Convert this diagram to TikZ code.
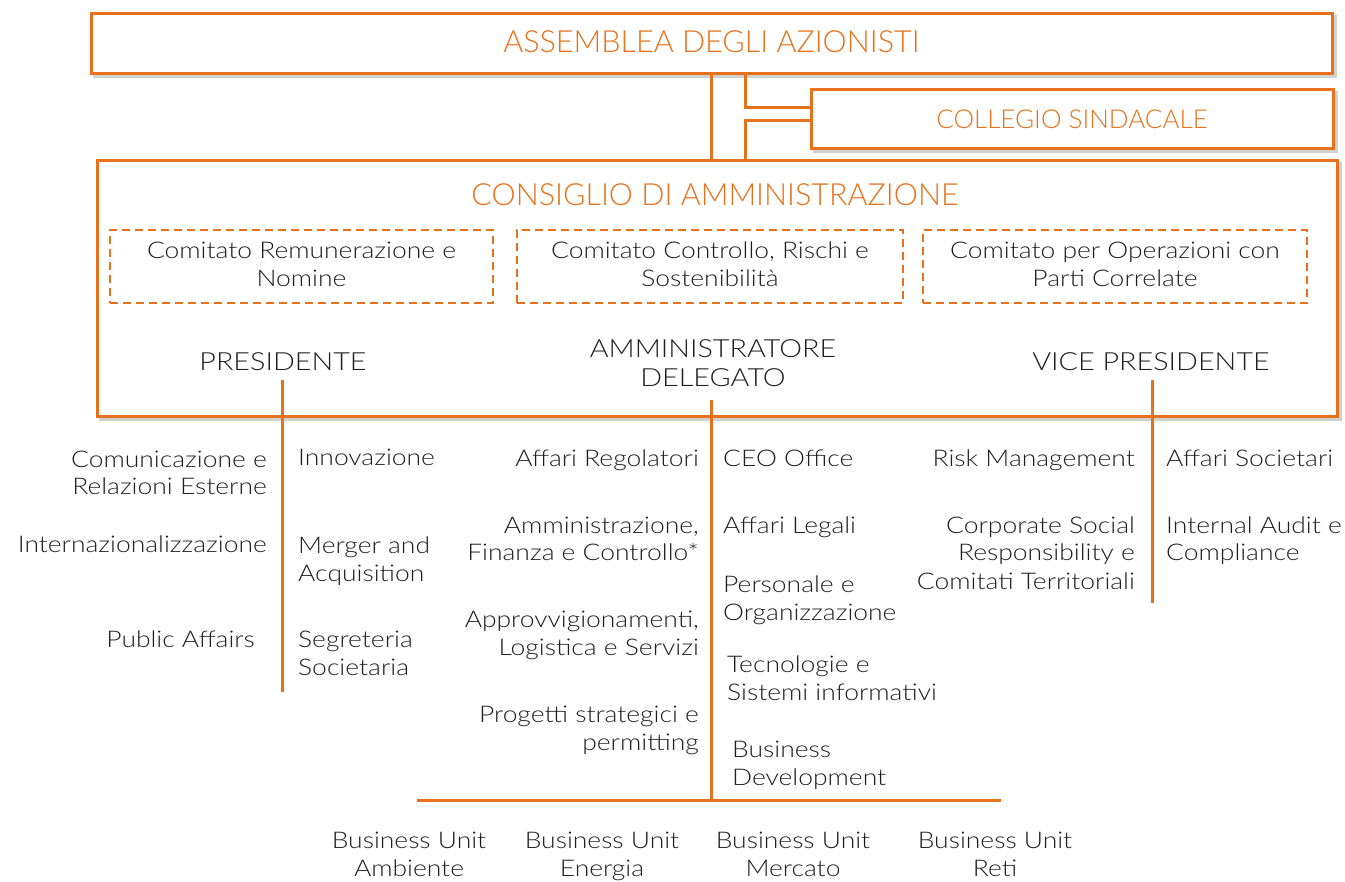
\documentclass[tikz,border=0pt]{standalone}
\usepackage{fontspec}
\setmainfont{Lato}[UprightFont=* Light, FakeStretch=1.15]
\newfontfamily\titlef{Lato}[UprightFont=* Light]
\usetikzlibrary{backgrounds}
\definecolor{org}{RGB}{232,114,28}
\definecolor{txt}{RGB}{30,30,30}
\tikzset{
  mainbox/.style={draw=org, line width=3pt, fill=white, inner sep=0pt},
  combox/.style={draw=org, line width=2.6pt, dash pattern=on 8pt off 5pt, fill=white},
  shad/.style={fill=black, opacity=0.18},
  conn/.style={draw=org, line width=3pt},
  title/.style={text=org, font=\titlef\fontsize{30.5}{36}\selectfont, inner sep=0pt},
  body/.style={text=txt, font=\fontsize{23}{28}\selectfont, inner sep=0pt},
  role/.style={text=txt, font=\fontsize{25}{29}\selectfont, inner sep=0pt, align=center},
  lt/.style={body, align=left, anchor=base west},
  rt/.style={body, align=right, anchor=base east},
  ct/.style={body, align=center, anchor=base},
}
\begin{document}
\begin{tikzpicture}[x=1pt,y=-1pt]
\useasboundingbox (0,0) rectangle (1345,882);
% top boxes
\node[mainbox, minimum width=1241pt, minimum height=60pt] (ass) at (711.5,44) {};
\node[title, anchor=base] (asst) at (711.5,53) {ASSEMBLEA DEGLI AZIONISTI};
\node[mainbox, minimum width=522pt, minimum height=59pt] (coll) at (1072,119.5) {};
\node[title, font=\titlef\fontsize{26}{30}\selectfont, anchor=base] (collt) at (1072,129) {COLLEGIO SINDACALE};
\node[mainbox, minimum width=1240pt, minimum height=256pt] (cda) at (717,289) {};
\node[title, anchor=base] (cdat) at (715,206) {CONSIGLIO DI AMMINISTRAZIONE};
% committees
\node[combox, minimum width=383pt, minimum height=73pt] (k1) at (301.5,266.5) {};
\node[combox, minimum width=386pt, minimum height=73pt] (k2) at (710,266.5) {};
\node[combox, minimum width=384pt, minimum height=73pt] (k3) at (1115,266.5) {};
% shadows
\begin{scope}[on background layer]
  \foreach \n/\d in {ass/3,coll/3,cda/3,k1/2,k2/2,k3/2}{
    \fill[shad] ([shift={(\d,\d)}]\n.north west) rectangle ([shift={(\d,\d)}]\n.south east);
  }
\end{scope}
% connectors between top boxes
\coordinate (c1) at (745,108);
\coordinate (c2) at (745,121);
\draw[conn] (ass.south) -- (ass.south |- cda.north);
\draw[conn] (ass.south -| c1) -- (c1) -- (c1 -| coll.west);
\draw[conn] (c2 -| coll.west) -- (c2) -- (c2 |- cda.north);
\node[ct] (k1t) at (301.5,287) {Comitato Remunerazione e\\Nomine};
\node[ct] (k2t) at (710,287) {Comitato Controllo, Rischi e\\Sostenibilità};
\node[ct] (k3t) at (1115,287) {Comitato per Operazioni con\\Parti Correlate};
% roles
\node[role, anchor=base] (pres) at (283,371) {PRESIDENTE};
\node[role, anchor=base] (ad) at (713,387) {AMMINISTRATORE\\DELEGATO};
\node[role, anchor=base] (vp) at (1151,371) {VICE PRESIDENTE};
\coordinate (ps) at (282,380);
\coordinate (as) at (711,400);
\coordinate (vs) at (1152,380);
\coordinate (pe) at (282,692);
\coordinate (ae) at (711,800);
\coordinate (ve) at (1152,603);
\draw[conn] (ps) -- (pe);
\draw[conn] (as) -- (ae);
\draw[conn] (vs) -- (ve);
\coordinate (bl) at (417,800);
\coordinate (br) at (1001,800);
\draw[conn] (bl) -- (br);
% presidente functions
\node[rt] (f1) at (267,495) {Comunicazione e\\Relazioni Esterne};
\node[rt] (f2) at (267,553) {Internazionalizzazione};
\node[rt] (f3) at (255,647) {Public Affairs};
\node[lt] (f4) at (298,466) {Innovazione};
\node[lt] (f5) at (298,581) {Merger and\\Acquisition};
\node[lt] (f6) at (298,675) {Segreteria\\Societaria};
% AD functions
\node[rt] (g1) at (699,467) {Affari Regolatori};
\node[rt] (g2) at (699,561) {Amministrazione,\\Finanza e Controllo*};
\node[rt] (g3) at (699,655) {Approvvigionamenti,\\Logistica e Servizi};
\node[rt] (g4) at (699,750) {Progetti strategici e\\permitting};
\node[lt] (g5) at (723,467) {CEO Office};
\node[lt] (g6) at (723,533) {Affari Legali};
\node[lt] (g7) at (723,620) {Personale e\\Organizzazione};
\node[lt] (g8) at (727,700) {Tecnologie e\\Sistemi informativi};
\node[lt] (g9) at (732,785) {Business\\Development};
% VP functions
\node[rt] (h1) at (1135,467) {Risk Management};
\node[rt] (h2) at (1135,589) {Corporate Social\\Responsibility e\\Comitati Territoriali};
\node[lt] (h3) at (1166,467) {Affari Societari};
\node[lt] (h4) at (1166,561) {Internal Audit e\\Compliance};
% business units
\node[ct] (b1) at (409,876) {Business Unit\\Ambiente};
\node[ct] (b2) at (602,876) {Business Unit\\Energia};
\node[ct] (b3) at (793,876) {Business Unit\\Mercato};
\node[ct] (b4) at (995,876) {Business Unit\\Reti};
\end{tikzpicture}
\end{document}
